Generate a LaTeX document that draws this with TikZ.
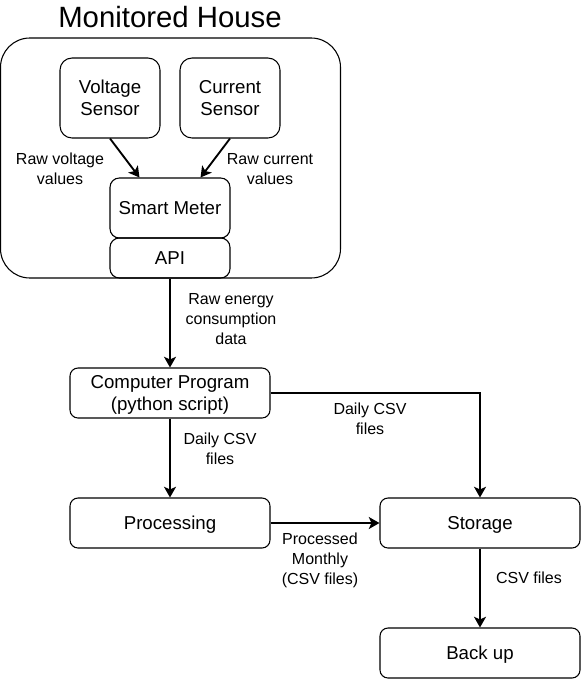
\documentclass[tikz,border=0pt]{standalone}
\usepackage{fontspec}
\setmainfont{Liberation Sans}
\usetikzlibrary{arrows.meta}
\tikzstyle{house} = [rectangle, rounded corners=22pt, minimum width=255pt, minimum height=180pt, draw=black, line width=0.8pt]
\tikzstyle{sensor} = [rectangle, rounded corners=9pt, minimum width=75pt, minimum height=60pt, text centered, align=center, text height=26.5pt, text depth=0pt, draw=black, line width=0.8pt, font=\fontsize{14}{16.5}\selectfont]
\tikzstyle{meter} = [rectangle, rounded corners=7pt, minimum width=90pt, minimum height=45pt, text centered, text height=10pt, text depth=0pt, draw=black, line width=0.8pt, font=\fontsize{14}{16.5}\selectfont]
\tikzstyle{api} = [rectangle, rounded corners=7pt, minimum width=90pt, minimum height=30pt, text centered, text height=10pt, text depth=0pt, draw=black, line width=0.8pt, font=\fontsize{14}{16.5}\selectfont]
\tikzstyle{box} = [rectangle, rounded corners=6pt, minimum width=150pt, minimum height=37.5pt, text centered, align=center, text height=10pt, text depth=0pt, draw=black, line width=0.8pt, font=\fontsize{14}{16.5}\selectfont]
\tikzstyle{lbl} = [align=center, inner sep=0pt, font=\fontsize{12}{15}\selectfont]
\tikzstyle{link} = [->, >={Stealth[length=8pt,width=9pt,inset=2pt]}, line width=1.4pt]

\begin{document}
\begin{tikzpicture}[x=0.75pt, y=-0.75pt]
    \useasboundingbox (0,0) rectangle (581,679);
    \node at (170,17) [font=\fontsize{22}{26}\selectfont] (title) {Monitored House};
    \node at (170.5,158) [house] (house) {};
    \node at (110,98) [sensor] (vsens) {Voltage\\Sensor};
    \node at (230,98) [sensor] (csens) {Current\\Sensor};
    \node at (170,208) [meter] (meter) {Smart Meter};
    \node at (170,258) [api] (api) {API};

    \node at (170,393) [box, text height=26.5pt] (prog) {Computer Program\\(python script)};
    \node at (170,523) [box] (proc) {Processing};
    \node at (480,523) [box] (store) {Storage};
    \node at (480,653) [box] (backup) {Back up};

    % edge labels
    \node at (60,169) [lbl] (lvolt) {Raw voltage\\values};
    \node at (270,169) [lbl] (lcurr) {Raw current\\values};
    \node at (231,319) [lbl] (lraw) {Raw energy\\consumption\\data};
    \node at (220,449) [lbl] (ldaily1) {Daily CSV\\files};
    \node at (370,419) [lbl] (ldaily2) {Daily CSV\\files};
    \node at (320,560) [lbl] (lmonth) {Processed\\Monthly\\(CSV files)};
    \node at (529,578) [lbl] (lcsv) {CSV files};

    \draw[link] (vsens.south) -- (meter.135);
    \draw[link] (csens.south) -- (meter.45);
    \draw[link] (api.south) -- (prog.north);
    \draw[link] (prog.south) -- (proc.north);
    \draw[link] (prog.east) -| (store.north);
    \draw[link] (proc.east) -- (store.west);
    \draw[link] (store.south) -- (backup.north);

\end{tikzpicture}
\end{document}
